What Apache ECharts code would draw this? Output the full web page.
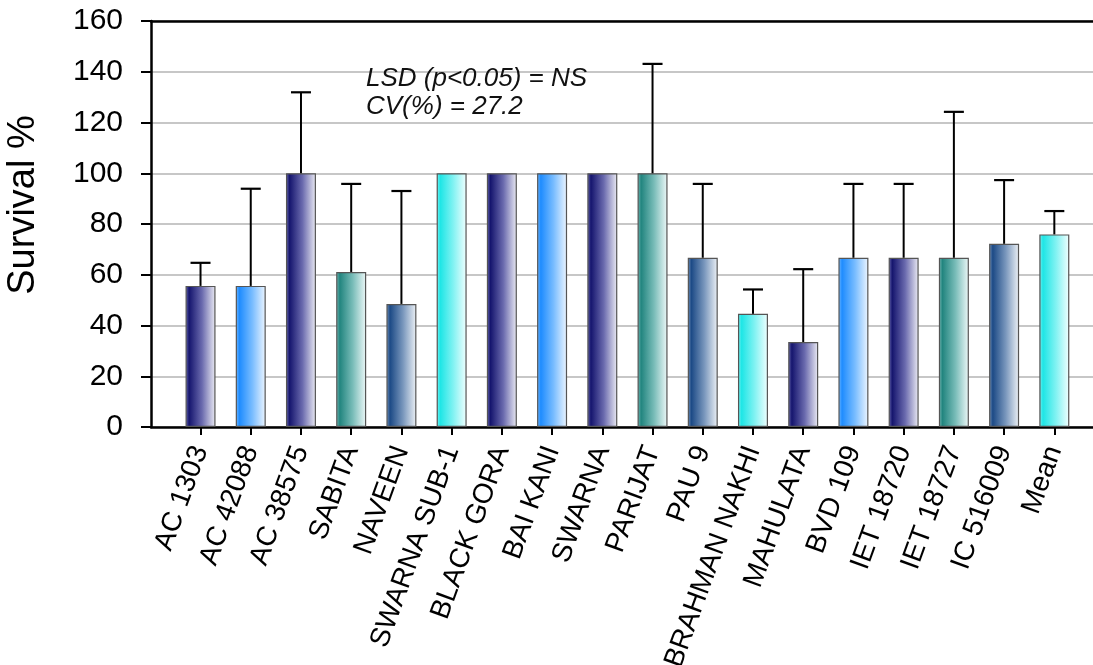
<!DOCTYPE html>
<html>
<head>
<meta charset="utf-8">
<script src="https://cdn.jsdelivr.net/npm/echarts@6/dist/echarts.min.js"></script>
<style>html,body{margin:0;padding:0;background:#fff;}#c{width:1093px;height:665px;}</style>
</head>
<body>
<div id="c"></div>
<script>
const categories = ['AC 1303','AC 42088','AC 38575','SABITA','NAVEEN','SWARNA SUB-1','BLACK GORA','BAI KANI','SWARNA','PARIJAT','PAU 9','BRAHMAN NAKHI','MAHULATA','BVD 109','IET 18720','IET 18727','IC 516009','Mean'];
const survival = [55.6, 55.6, 100, 61.1, 48.5, 100, 100, 100, 100, 100, 66.7, 44.6, 33.5, 66.7, 66.7, 66.7, 72.2, 75.9];
const errorUp = [9.1, 38.3, 31.9, 34.7, 44.5, 0, 0, 0, 0, 43.1, 29.1, 9.6, 28.7, 29.1, 29.1, 57.5, 25.1, 9.2];
const yTicks = [0, 20, 40, 60, 80, 100, 120, 140, 160];
const yTitle = 'Survival %';
const noteLines = ['LSD (p<0.05) = NS', 'CV(%) = 27.2'];

const palette = [
  ['#15156e', '#6a6aae', '#ececf4'],
  ['#1e8cff', '#78bcff', '#eef6ff'],
  ['#15156e', '#6a6aae', '#ececf4'],
  ['#22857f', '#78bcb8', '#eef8f8'],
  ['#1c4a86', '#7896bc', '#eef2f6'],
  ['#1ee6e6', '#80f2f2', '#f2ffff']
];
function grad(i) {
  const p = palette[i % palette.length];
  return new echarts.graphic.LinearGradient(0, 0, 1, 0, [
    {offset: 0, color: p[1]},
    {offset: 0.12, color: p[0]},
    {offset: 0.55, color: p[1]},
    {offset: 1, color: p[2]}
  ]);
}

const idx = categories.map((_, i) => i);
const xMin = -0.986, xMax = 17.77;
const font = '"Liberation Sans", Arial, sans-serif';

const chart = echarts.init(document.getElementById('c'), null, {renderer: 'canvas'});
chart.setOption({
  animation: false,
  backgroundColor: '#ffffff',
  grid: {left: 151, right: 0, top: 21, bottom: 238, containLabel: false, outerBoundsMode: 'none'},
  xAxis: [{
    type: 'value', min: xMin, max: xMax, position: 'bottom',
    splitLine: {show: false},
    axisLine: {show: true, onZero: false, lineStyle: {color: '#000', width: 2.5}},
    axisTick: {show: true, customValues: idx, length: 8, lineStyle: {color: '#000', width: 2}},
    axisLabel: {
      show: true, customValues: idx, rotate: 70, margin: 20,
      fontFamily: font, fontSize: 28, color: '#000',
      formatter: v => categories[Math.round(v)] || ''
    }
  }, {
    type: 'value', min: xMin, max: xMax, position: 'top',
    splitLine: {show: false}, axisTick: {show: false}, axisLabel: {show: false},
    axisLine: {show: true, onZero: false, lineStyle: {color: '#000', width: 2.5}}
  }],
  yAxis: {
    type: 'value', min: 0, max: 160, interval: 20,
    axisLine: {show: true, onZero: false, lineStyle: {color: '#000', width: 2.5}},
    axisTick: {show: true, length: 10, lineStyle: {color: '#000', width: 2}},
    axisLabel: {margin: 28, fontFamily: font, fontSize: 30, color: '#000',
      formatter: v => yTicks.includes(v) ? String(v) : ''},
    splitLine: {show: true, lineStyle: {color: '#b4b4b4', width: 1.5}}
  },
  series: [{
    type: 'bar',
    barWidth: 30,
    data: survival.map((v, i) => ({value: [i, v], itemStyle: {color: grad(i), borderColor: '#555', borderWidth: 1.2}})),
    z: 2
  }, {
    type: 'custom',
    z: 3,
    data: survival.map((v, i) => [i, v, v + errorUp[i]]),
    renderItem: function (params, api) {
      const e = errorUp[params.dataIndex];
      if (!e) return null;
      const base = api.coord([api.value(0), api.value(1)]);
      const top = api.coord([api.value(0), api.value(2)]);
      const half = 10;
      return {
        type: 'group',
        children: [
          {type: 'line', shape: {x1: base[0], y1: base[1], x2: top[0], y2: top[1]}, style: {stroke: '#000', lineWidth: 2}},
          {type: 'line', shape: {x1: top[0] - half, y1: top[1], x2: top[0] + half, y2: top[1]}, style: {stroke: '#000', lineWidth: 2.2}}
        ]
      };
    }
  }],
  graphic: [{
    type: 'text', x: 24, y: 205, rotation: Math.PI / 2, z: 10,
    style: {text: yTitle, fontFamily: font, fontSize: 38, fill: '#000', align: 'center', verticalAlign: 'middle'}
  }].concat(noteLines.map((t, k) => ({
    type: 'text', x: 366, y: 79 + k * 28, z: 10,
    style: {text: t, fontFamily: font, fontStyle: 'italic', fontSize: 26, fill: '#111', verticalAlign: 'middle'}
  })))
});
</script>
</body>
</html>
